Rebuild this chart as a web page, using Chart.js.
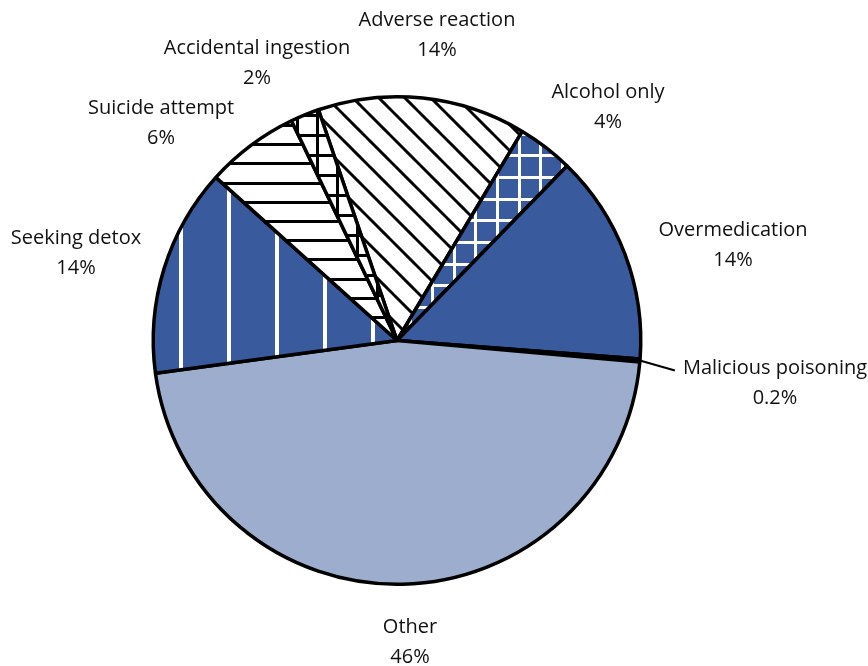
<!DOCTYPE html>
<html>
<head>
<meta charset="utf-8">
<script src="https://cdn.jsdelivr.net/npm/chart.js@4"></script>
<style>
  html, body { margin: 0; padding: 0; background: #fff; }
</style>
</head>
<body>
<canvas id="pieChart" width="868" height="666"></canvas>
<script>
// data, clockwise from the slice that starts left of 12 o'clock
const categories = ['Adverse reaction', 'Alcohol only', 'Overmedication', 'Malicious poisoning',
                    'Other', 'Seeking detox', 'Suicide attempt', 'Accidental ingestion'];
const shares = [13.8, 3.7, 13.9, 0.2, 46.4, 13.8, 6.2, 1.9];
const shareLabels = ['14%', '4%', '14%', '0.2%', '46%', '14%', '6%', '2%'];

// label layout: offset of first text line from pie centre
const labelOffsets = [[40, -320], [211, -248], [336, -110], [378, 28],
                      [13, 287], [-321, -102], [-236, -232], [-140, -292]];

const DARK = '#3a5a9e';
const LIGHT = '#9dadce';

const canvas = document.getElementById('pieChart');
const ctx = canvas.getContext('2d');

function tile(w, h, bg, draw) {
    const c = document.createElement('canvas');
    c.width = w; c.height = h;
    const g = c.getContext('2d');
    g.fillStyle = bg;
    g.fillRect(0, 0, w, h);
    draw(g);
    return ctx.createPattern(c, 'repeat');
}

// black "\" hatching
const diagHatch = tile(26, 26, '#fff', g => {
    g.strokeStyle = '#000'; g.lineWidth = 3;
    for (let k = -2; k <= 2; k++) {
        g.beginPath();
        g.moveTo(21 + 26 * k - 5, -5);
        g.lineTo(21 + 26 * k + 31, 31);
        g.stroke();
    }
});
// white grid on dark blue
const blueGrid = tile(65, 65, DARK, g => {
    g.fillStyle = '#fff';
    [19, 41].forEach(x => g.fillRect(x, 0, 3, 65));
    g.fillRect(63, 0, 2, 65); g.fillRect(0, 0, 1, 65);
    [3, 24, 46].forEach(y => g.fillRect(0, y, 65, 3));
});
// white vertical stripes on dark blue
const blueStripes = tile(48, 8, DARK, g => {
    g.fillStyle = '#fff';
    g.fillRect(35, 0, 4, 8);
});
// black horizontal lines
const horizLines = tile(8, 96, '#fff', g => {
    g.fillStyle = '#000';
    [9, 28, 47, 66, 86].forEach(y => g.fillRect(0, y, 8, 3));
});
// black grid on white
const blackGrid = tile(20, 20, '#fff', g => {
    g.fillStyle = '#000';
    g.fillRect(16, 0, 3, 20);
    g.fillRect(0, 14, 20, 3);
});

const sliceLabels = {
    id: 'sliceLabels',
    afterDatasetsDraw(chart) {
        const arcs = chart.getDatasetMeta(0).data;
        const cx = arcs[0].x, cy = arcs[0].y;
        const c = chart.ctx;
        c.save();
        c.font = '20px "Open Sans"';
        c.fillStyle = '#111';
        c.textAlign = 'center';
        c.textBaseline = 'middle';
        categories.forEach((name, i) => {
            const [dx, dy] = labelOffsets[i];
            c.fillText(name, cx + dx, cy + dy);
            c.fillText(shareLabels[i], cx + dx, cy + dy + 30);
        });
        // leader line for the tiny slice
        const a = arcs[3];
        const mid = (a.startAngle + a.endAngle) / 2;
        const w = c.measureText(categories[3]).width;
        c.strokeStyle = '#000';
        c.lineWidth = 2;
        c.beginPath();
        c.moveTo(cx + Math.cos(mid) * a.outerRadius, cy + Math.sin(mid) * a.outerRadius);
        c.lineTo(cx + labelOffsets[3][0] - w / 2 - 8, cy + labelOffsets[3][1] + 2);
        c.stroke();
        c.restore();
    }
};

document.fonts.load('20px "Open Sans"').finally(() => {
    new Chart(ctx, {
        type: 'pie',
        data: {
            labels: categories,
            datasets: [{
                data: shares,
                backgroundColor: [diagHatch, blueGrid, DARK, '#fff', LIGHT, blueStripes, horizLines, blackGrid],
                borderColor: '#000',
                borderWidth: 3.5
            }]
        },
        options: {
            responsive: false,
            animation: false,
            rotation: -18.8,
            layout: { padding: { left: 100, right: 174, top: 95, bottom: 80 } },
            plugins: {
                legend: { display: false },
                tooltip: { enabled: false }
            }
        },
        plugins: [sliceLabels]
    });
});
</script>
</body>
</html>
